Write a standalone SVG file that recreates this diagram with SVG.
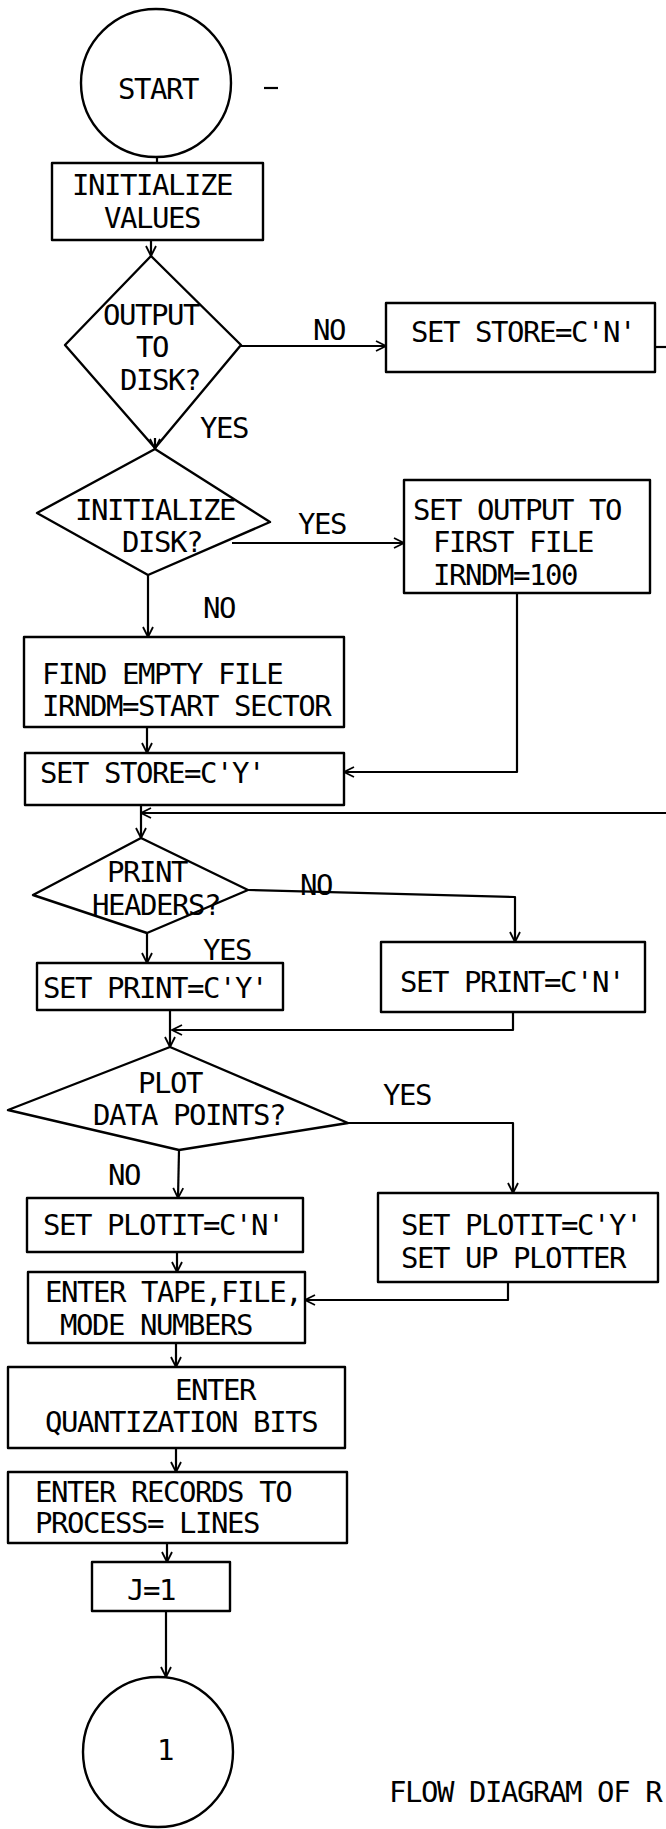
<svg xmlns="http://www.w3.org/2000/svg" width="666" height="1829" viewBox="0 0 666 1829">
<style>
.s{fill:none;stroke:#000;stroke-width:2.4;stroke-linejoin:round}
.c{fill:none;stroke:#000;stroke-width:2.2;stroke-linejoin:round}
text{font-family:"DejaVu Sans Mono","Liberation Mono",monospace;font-size:29px;letter-spacing:-1.45px;fill:#000}
</style>
<defs>
<marker id="ah" viewBox="0 0 12 12" refX="11" refY="6" markerWidth="12" markerHeight="12" markerUnits="userSpaceOnUse" orient="auto">
<path d="M1,1 L11,6 L1,11" fill="none" stroke="#000" stroke-width="1.8"/>
</marker>
</defs>
<rect width="666" height="1829" fill="#fff"/>

<g id="connectors">
<path class="c" d="M157,157 L157,163"/>
<path class="c" d="M151,240 L151,256" marker-end="url(#ah)"/>
<path class="c" d="M241,346 L386,346" marker-end="url(#ah)"/>
<path class="c" d="M655,347 L666,347"/>
<path class="c" d="M155,438 L155,449" marker-end="url(#ah)"/>
<path class="c" d="M232,543 L404,543" marker-end="url(#ah)"/>
<path class="c" d="M148,575 L148,637" marker-end="url(#ah)"/>
<path class="c" d="M147,727 L147,753" marker-end="url(#ah)"/>
<path class="c" d="M517,593 L517,772 L344,772" marker-end="url(#ah)"/>
<path class="c" d="M666,813 L141,813" marker-end="url(#ah)"/>
<path class="c" d="M141,805 L141,838" marker-end="url(#ah)"/>
<path class="c" d="M248,890 L515,897 L515,942" marker-end="url(#ah)"/>
<path class="c" d="M147,933 L147,963" marker-end="url(#ah)"/>
<path class="c" d="M513,1012 L513,1030 L172,1030" marker-end="url(#ah)"/>
<path class="c" d="M170,1010 L170,1047" marker-end="url(#ah)"/>
<path class="c" d="M348,1123 L513,1123 L513,1193" marker-end="url(#ah)"/>
<path class="c" d="M179,1150 L178,1198" marker-end="url(#ah)"/>
<path class="c" d="M177,1252 L177,1272" marker-end="url(#ah)"/>
<path class="c" d="M508,1282 L508,1300 L305,1300" marker-end="url(#ah)"/>
<path class="c" d="M176,1343 L176,1367" marker-end="url(#ah)"/>
<path class="c" d="M176,1448 L176,1472" marker-end="url(#ah)"/>
<path class="c" d="M167,1543 L167,1562" marker-end="url(#ah)"/>
<path class="c" d="M166,1611 L166,1677" marker-end="url(#ah)"/>
</g>

<g id="start">
<ellipse class="s" cx="156" cy="83" rx="75" ry="74"/>
<text x="118" y="99">START</text>
<path class="c" d="M264,88 L278,88"/>
</g>

<g id="init-values">
<rect class="s" x="52" y="163" width="211" height="77"/>
<text x="72" y="195">INITIALIZE</text>
<text x="104" y="228">VALUES</text>
</g>

<g id="output-to-disk">
<polygon class="s" points="151,256 241,345 155,448 65,345"/>
<text x="103" y="325">OUTPUT</text>
<text x="136" y="357">TO</text>
<text x="120" y="390">DISK?</text>
<text x="313" y="340">NO</text>
<text x="200" y="438">YES</text>
</g>

<g id="store-n">
<rect class="s" x="386" y="303" width="269" height="69"/>
<text x="411" y="342">SET STORE=C'N'</text>
</g>

<g id="init-disk">
<polygon class="s" points="155,449 270,522 148,575 37,513"/>
<text x="75" y="520">INITIALIZE</text>
<text x="122" y="552">DISK?</text>
<text x="298" y="534">YES</text>
<text x="203" y="618">NO</text>
</g>

<g id="first-file">
<rect class="s" x="404" y="480" width="246" height="113"/>
<text x="413" y="520">SET OUTPUT TO</text>
<text x="433" y="552">FIRST FILE</text>
<text x="433" y="585">IRNDM=100</text>
</g>

<g id="find-empty">
<rect class="s" x="24" y="637" width="320" height="90"/>
<text x="42" y="684">FIND EMPTY FILE</text>
<text x="42" y="716">IRNDM=START SECTOR</text>
</g>

<g id="store-y">
<rect class="s" x="25" y="753" width="319" height="52"/>
<text x="40" y="783">SET STORE=C'Y'</text>
</g>

<g id="print-headers">
<polygon class="s" points="141,838 248,890 147,933 33,895"/>
<text x="107" y="882">PRINT</text>
<text x="92" y="915">HEADERS?</text>
<text x="300" y="895">NO</text>
<text x="203" y="960">YES</text>
</g>

<g id="print-y">
<rect class="s" x="37" y="963" width="246" height="47"/>
<text x="43" y="998">SET PRINT=C'Y'</text>
</g>

<g id="print-n">
<rect class="s" x="381" y="942" width="264" height="70"/>
<text x="400" y="992">SET PRINT=C'N'</text>
</g>

<g id="plot-points">
<polygon class="s" points="170,1047 348,1123 179,1150 8,1110"/>
<text x="138" y="1093">PLOT</text>
<text x="93" y="1125">DATA POINTS?</text>
<text x="383" y="1105">YES</text>
<text x="108" y="1185">NO</text>
</g>

<g id="plotit-n">
<rect class="s" x="27" y="1198" width="276" height="54"/>
<text x="43" y="1235">SET PLOTIT=C'N'</text>
</g>

<g id="plotit-y">
<rect class="s" x="378" y="1193" width="280" height="89"/>
<text x="401" y="1235">SET PLOTIT=C'Y'</text>
<text x="401" y="1268">SET UP PLOTTER</text>
</g>

<g id="enter-tape">
<rect class="s" x="28" y="1272" width="277" height="71"/>
<text x="45" y="1302">ENTER TAPE,FILE,</text>
<text x="60" y="1335">MODE NUMBERS</text>
</g>

<g id="enter-quant">
<rect class="s" x="8" y="1367" width="337" height="81"/>
<text x="175" y="1400">ENTER</text>
<text x="45" y="1432">QUANTIZATION BITS</text>
</g>

<g id="enter-records">
<rect class="s" x="8" y="1472" width="339" height="71"/>
<text x="35" y="1502">ENTER RECORDS TO</text>
<text x="35" y="1533">PROCESS= LINES</text>
</g>

<g id="j1">
<rect class="s" x="92" y="1562" width="138" height="49"/>
<text x="127" y="1600">J=1</text>
</g>

<g id="connector-1">
<ellipse class="s" cx="158" cy="1752" rx="75" ry="75"/>
<text x="157" y="1760">1</text>
</g>

<g id="caption">
<text x="389" y="1802">FLOW DIAGRAM OF R</text>
</g>
</svg>
